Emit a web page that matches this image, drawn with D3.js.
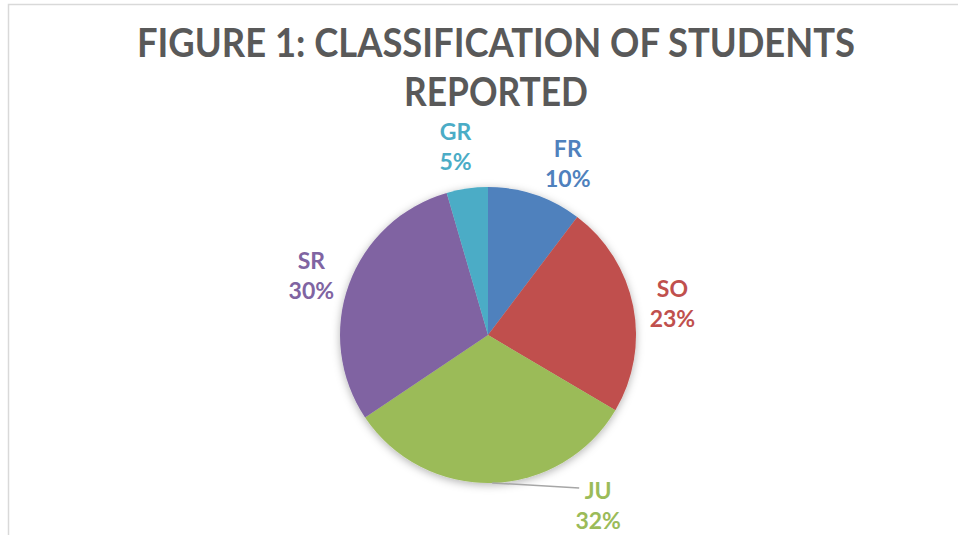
<html><head>
<meta charset="utf-8">
<script src="https://cdnjs.cloudflare.com/ajax/libs/d3/7.8.5/d3.min.js"></script>
<style>
  body { margin: 0; background: #fff; }
  .title { font-family: Lato, "Open Sans", sans-serif; font-weight: bold; fill: #595959; text-anchor: middle; }
  .lbl { font-family: Lato, "Open Sans", sans-serif; font-weight: bold; font-size: 23px; text-anchor: middle; }
</style>
</head>
<body>
<script>
// chart data
var categories = ["FR", "SO", "JU", "SR", "GR"];
var shares = [10.3, 23.2, 32.1, 29.9, 4.5];
var shownPct = ["10%", "23%", "32%", "30%", "5%"];
var colours = ["#4F81BD", "#C0504D", "#9BBB59", "#8064A2", "#4BACC6"];
var titleLines = ["FIGURE 1: CLASSIFICATION OF STUDENTS", "REPORTED"];

var width = 958, height = 535;
var cx = 488, cy = 335, radius = 148;

var svg = d3.select("body").append("svg")
    .attr("width", width)
    .attr("height", height);

var defs = svg.append("defs");
var f = defs.append("filter").attr("id", "shadow")
    .attr("x", "-20%").attr("y", "-20%").attr("width", "140%").attr("height", "140%");
f.append("feDropShadow").attr("dx", 0).attr("dy", 2).attr("stdDeviation", 4)
    .attr("flood-color", "#000").attr("flood-opacity", 0.3);

// chart area frame (only top and left edges show)
svg.append("rect")
    .attr("x", 8.5).attr("y", 4.5)
    .attr("width", 1000).attr("height", 600)
    .attr("fill", "none").attr("stroke", "#d9d9d9").attr("stroke-width", 1.5);

// title
var widths = [718, 184];
titleLines.forEach(function(t, i) {
  svg.append("text")
      .attr("class", "title")
      .attr("x", 496)
      .attr("y", 57 + i * 49)
      .attr("font-size", 40)
      .attr("textLength", widths[i])
      .attr("lengthAdjust", "spacingAndGlyphs")
      .text(t);
});

var data = categories.map(function(c, i) {
  return { cat: c, value: shares[i], pct: shownPct[i], colour: colours[i] };
});

var pie = d3.pie().sort(null).value(function(d) { return d.value; });
var arc = d3.arc().innerRadius(0).outerRadius(radius);
var labelArc = d3.arc().innerRadius(188).outerRadius(188);
var edgeArc = d3.arc().innerRadius(radius).outerRadius(radius);

var g = svg.append("g").attr("transform", "translate(" + cx + "," + cy + ")");
var arcs = pie(data);

g.append("g").attr("filter", "url(#shadow)")
  .selectAll("path")
  .data(arcs)
  .enter().append("path")
    .attr("d", arc)
    .attr("fill", function(d) { return d.data.colour; });

arcs.forEach(function(d) {
  var p = labelArc.centroid(d);
  var lx = p[0], ly = p[1] + 6;
  if (d.data.cat === "FR") {
    // best-fit moves this one away from the title
    lx += 20;
    ly += 2;
  }
  if (d.data.cat === "GR") {
    lx -= 6;
    ly -= 7;
  }
  if (d.data.cat === "JU") {
    // label pushed out with a leader line
    var e = edgeArc.centroid(d);
    lx = e[0] + 106;
    g.append("path")
      .attr("d", "M" + e[0] + "," + e[1] + "L" + (lx - 19) + "," + (e[1] + 5))
      .attr("stroke", "#a6a6a6").attr("stroke-width", 1.5).attr("fill", "none");
    ly = e[1] + 24;
  }
  var t = g.append("text").attr("class", "lbl").attr("fill", d.data.colour);
  t.append("tspan").attr("x", lx).attr("y", ly - 8).text(d.data.cat);
  t.append("tspan").attr("x", lx).attr("y", ly + 22).text(d.data.pct);
});
</script>
</body></html>
